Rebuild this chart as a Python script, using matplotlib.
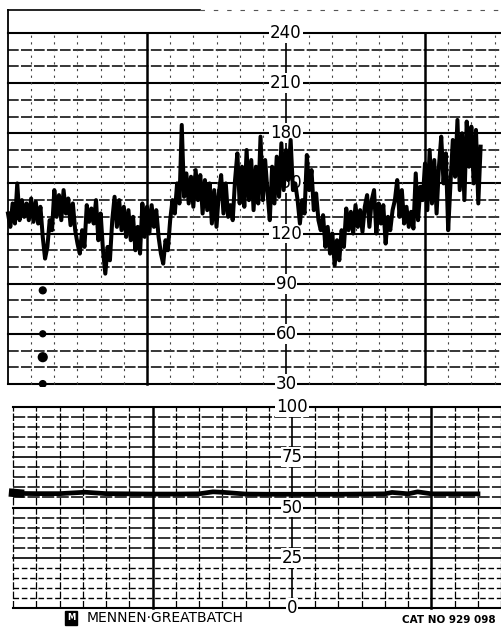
import matplotlib.pyplot as plt

# fetal heart rate, one reading per second (bpm)
fhr = [132, 124, 138, 126, 150, 128, 140, 130, 138, 128,
       141, 127, 139, 126, 136, 118, 105, 112, 128, 122,
       146, 130, 143, 128, 146, 132, 141, 125, 138, 122,
       114, 108, 122, 112, 137, 127, 135, 126, 140, 116,
       132, 110, 96, 112, 104, 128, 142, 124, 140, 122,
       136, 118, 134, 116, 130, 110, 124, 108, 138, 118,
       136, 120, 137, 124, 134, 118, 108, 102, 116, 110,
       128, 140, 132, 150, 138, 185, 142, 156, 138, 154,
       136, 158, 140, 155, 132, 152, 134, 150, 126, 146,
       124, 144, 155, 132, 150, 130, 137, 128, 152, 168,
       138, 160, 136, 170, 140, 164, 134, 160, 138, 178,
       140, 164, 145, 128, 160, 138, 166, 142, 174, 146,
       170, 152, 176, 146, 150, 140, 126, 140, 132, 167,
       146, 158, 134, 144, 128, 122, 131, 112, 124, 108,
       120, 101, 116, 104, 122, 112, 135, 122, 133, 120,
       137, 124, 134, 121, 136, 143, 124, 140, 146, 120,
       138, 126, 137, 114, 130, 122, 134, 140, 152, 130,
       146, 126, 136, 124, 133, 123, 156, 128, 148, 140,
       162, 134, 170, 138, 164, 132, 160, 178, 150, 168,
       122, 150, 176, 154, 188, 146, 180, 140, 187, 160,
       184, 150, 182, 138, 172]
fhr_t = list(range(len(fhr)))

# stray marks under the trace
dots_t = [15, 15, 15, 15]
dots_bpm = [86, 60, 46, 30]
dots_size = [24, 18, 40, 22]

# uterine activity channel
ua_t = [0, 3, 10, 20, 31, 40, 50, 60, 70, 80, 86, 91, 100, 110, 120,
        130, 140, 150, 160, 163, 170, 174, 180, 190, 200]
ua = [57.3, 57.0, 56.9, 56.9, 57.6, 56.9, 56.8, 56.7, 56.7, 56.8, 57.8, 57.5,
      56.7, 56.6, 56.6, 56.6, 56.6, 56.7, 56.8, 57.5, 56.8, 57.8, 56.8, 56.8, 56.8]

fhr_labels = [240, 210, 180, 150, 120, 90, 60, 30]
ua_labels = [100, 75, 50, 25, 0]

fig = plt.figure(figsize=(5.01, 6.33), dpi=100)
fig.set_facecolor('white')

# ---- heart rate panel
ax1 = fig.add_axes([0, 0.3886, 1, 0.5987])
ax1.set_xlim(-3.45, 212.8)
ax1.set_ylim(28.15, 254.96)
ax1.axis('off')

for v in range(30, 241, 10):
    if v % 30 == 0:
        ax1.plot([0, 213], [v, v], color='black', lw=1.5, zorder=1)
    else:
        ax1.plot([0, 213], [v, v], color='black', lw=1.1,
                 dashes=(7, 1.5), zorder=1)
for s in range(10, 211, 10):
    if s in (60, 180):
        ax1.plot([s, s], [30, 240], color='black', lw=1.8, zorder=1)
    elif s == 120:
        ax1.plot([s, s], [30, 236], color='black', lw=1.2, zorder=1)
    else:
        ax1.plot([s, s], [30, 240], color='#444444', lw=0.8,
                 dashes=(2, 4), zorder=1)
# paper edge
ax1.plot([0, 0], [30, 253.8], color='black', lw=1.3, zorder=1)
ax1.plot([0, 83], [253.8, 253.8], color='black', lw=1.2, zorder=1)
ax1.plot([83, 213], [253.8, 253.8], color='#555555', lw=0.8,
         dashes=(4, 8), zorder=1)

for v in fhr_labels:
    ax1.text(120, v, str(v), ha='center', va='center', fontsize=12,
             bbox=dict(fc='white', ec='none', pad=0.6), zorder=3)

ax1.plot(fhr_t, fhr, color='black', lw=2.9, solid_joinstyle='round', zorder=4)
ax1.scatter(dots_t, dots_bpm, s=dots_size, color='black', zorder=4)

# ---- uterine activity panel
ax2 = fig.add_axes([0, 0.02844, 1, 0.3397])
ax2.set_xlim(-5.6, 209.9)
ax2.set_ylim(-3.48, 103.5)
ax2.axis('off')

for v in range(0, 101, 5):
    if v % 50 == 0:
        ax2.plot([0, 212], [v, v], color='black', lw=1.5, zorder=1)
    elif v % 25 == 0:
        ax2.plot([0, 212], [v, v], color='black', lw=1.2, zorder=1)
    elif v < 25:
        ax2.plot([0, 212], [v, v], color='black', lw=1.0,
                 dashes=(4, 2), zorder=1)
    else:
        ax2.plot([0, 212], [v, v], color='black', lw=1.1,
                 dashes=(8, 1.5), zorder=1)
for s in range(0, 211, 10):
    if s in (60, 180):
        ax2.plot([s, s], [0, 100], color='black', lw=1.8, zorder=1)
    elif s == 120:
        ax2.plot([s, s], [0, 97], color='black', lw=1.2, zorder=1)
    else:
        ax2.plot([s, s], [0, 100], color='black', lw=0.9,
                 dashes=(6, 1.5), zorder=1)

for v in ua_labels:
    ax2.text(120, v, str(v), ha='center', va='center', fontsize=12,
             bbox=dict(fc='white', ec='none', pad=0.6), zorder=3)

ax2.plot(ua_t, ua, color='black', lw=3.4, zorder=4)
ax2.plot(ua_t[:2], ua[:2], color='black', lw=6, zorder=4)

# ---- printed footer
fig.text(71 / 501, 1 - 618 / 633, 'M', color='white', fontsize=6,
         ha='center', va='center', weight='bold',
         bbox=dict(fc='black', ec='black', pad=1.5))
fig.text(87 / 501, 1 - 618 / 633, 'MENNEN\u00b7GREATBATCH', fontsize=10,
         ha='left', va='center')
fig.text(402 / 501, 1 - 620 / 633, 'CAT NO 929 098', fontsize=7.5,
         ha='left', va='center', weight='bold')

fig.savefig('out.png', dpi=100)
